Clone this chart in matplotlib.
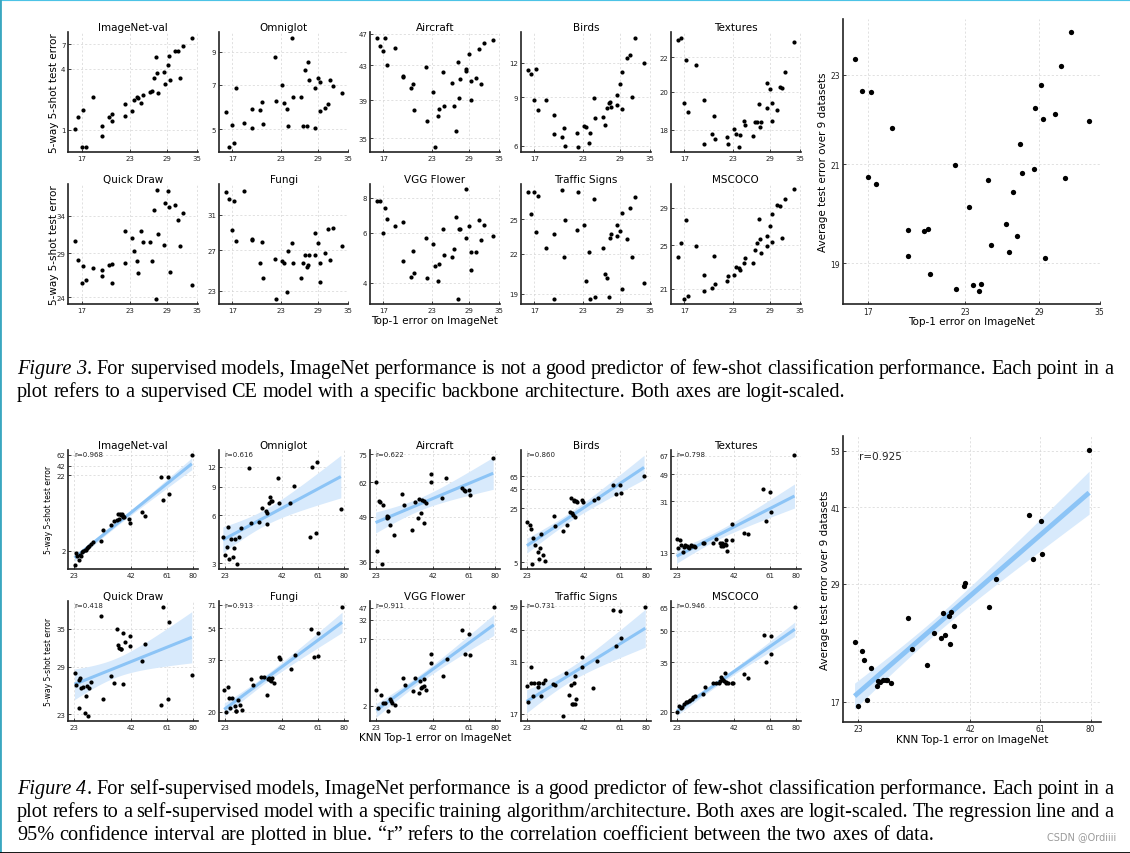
import numpy as np
import matplotlib.pyplot as plt
from matplotlib.ticker import FixedLocator, FixedFormatter, NullLocator
from matplotlib.lines import Line2D

# ---------------- Figure 3: supervised models (same ImageNet error in every panel)
titles = ["ImageNet-val", "Omniglot", "Aircraft", "Birds", "Textures",
          "Quick Draw", "Fungi", "VGG Flower", "Traffic Signs", "MSCOCO"]

sup_x = [16.31, 16.65, 17.0, 17.16, 17.43, 18.30, 19.26, 19.26, 20.20, 20.50, 20.60, 22.25,
         22.37, 23.27, 23.56, 24.00, 24.15, 24.71, 24.92, 26.14, 26.41, 26.74, 27.08, 27.30,
         27.50, 28.55, 28.58, 29.12, 29.36, 29.48, 30.45, 31.05, 31.44, 32.03, 33.87]
sup_imagenet = [1.02, 1.35, 0.68, 1.58, 0.68, 2.09, 0.87, 1.09, 1.32, 1.21, 1.43, 1.38, 1.78,
                1.54, 1.95, 2.13, 2.05, 1.85, 2.21, 2.35, 2.42, 3.23, 5.26, 3.65, 2.33, 3.76,
                2.84, 4.35, 5.34, 3.13, 5.99, 5.99, 3.23, 6.82, 8.12]
sup_omniglot = [5.70, 4.37, 5.14, 4.48, 6.83, 5.25, 5.03, 5.84, 5.76, 6.15, 5.19, 8.64, 6.17,
                7.00, 6.09, 5.82, 5.10, 9.98, 6.39, 6.39, 5.13, 7.83, 5.10, 8.34, 7.24, 6.81,
                5.05, 7.35, 7.16, 5.73, 5.86, 6.03, 7.25, 6.91, 6.56]
sup_aircraft = [46.43, 45.40, 44.72, 46.43, 43.08, 45.15, 41.76, 41.6, 40.30, 40.76, 37.88,
                42.80, 36.80, 39.93, 34.20, 37.32, 38.06, 42.20, 38.31, 40.87, 38.38, 35.78,
                43.36, 39.18, 41.33, 42.32, 42.60, 44.35, 41.18, 39.0, 41.53, 45.06, 40.80,
                45.79, 46.18]
sup_birds = [11.32, 10.92, 8.78, 11.45, 8.12, 8.80, 7.78, 6.62, 6.43, 6.96, 5.98, 6.66, 5.95,
             7.09, 7.01, 6.15, 6.68, 8.95, 7.59, 7.65, 7.12, 8.21, 8.58, 8.68, 8.30, 9.20, 8.44,
             10.09, 11.16, 8.16, 12.55, 12.87, 9.05, 14.84, 11.97]
sup_textures = [23.10, 23.19, 19.36, 21.84, 18.92, 21.55, 19.53, 17.30, 17.77, 18.68, 17.54,
                17.64, 17.30, 18.03, 17.80, 17.15, 17.75, 18.44, 18.23, 17.67, 18.39, 18.40,
                19.31, 18.15, 18.40, 20.49, 19.10, 20.13, 19.38, 18.44, 18.99, 20.28, 20.20,
                21.12, 22.97]
sup_quickdraw = [30.57, 28.15, 25.48, 27.47, 25.84, 27.24, 26.97, 26.29, 27.59, 27.67, 25.48,
                 31.90, 27.75, 30.92, 29.29, 27.99, 26.66, 31.81, 30.44, 30.35, 28.03, 34.84,
                 23.87, 38.0, 31.49, 29.96, 35.95, 37.84, 35.29, 26.70, 35.59, 33.43, 29.88,
                 34.44, 25.33]
sup_fungi = [33.94, 32.98, 29.24, 32.68, 27.93, 34.07, 28.23, 28.1, 25.62, 27.90, 24.16, 26.10,
             22.28, 25.89, 25.62, 22.90, 26.86, 27.75, 25.66, 24.16, 25.66, 26.51, 25.29, 25.49,
             26.44, 28.90, 26.51, 27.79, 23.85, 25.66, 26.69, 29.32, 26.0, 29.39, 27.46]
sup_vgg = [7.77, 7.81, 6.0, 7.36, 6.74, 6.37, 6.55, 4.76, 4.20, 5.20, 4.33, 5.74, 4.16, 5.47,
           4.60, 4.04, 4.67, 6.20, 5.03, 4.94, 5.28, 6.85, 3.51, 6.18, 6.22, 5.76, 8.57, 6.37,
           5.15, 4.44, 5.15, 6.69, 5.68, 6.40, 5.84]
sup_traffic = [27.70, 25.53, 27.70, 23.89, 27.29, 22.52, 23.72, 18.65, 27.90, 21.76, 24.94,
               24.07, 27.63, 24.49, 19.89, 22.16, 18.65, 26.95, 18.75, 22.49, 20.41, 20.16,
               18.75, 23.31, 23.72, 23.54, 24.49, 23.98, 25.56, 19.36, 23.23, 26.08, 21.76,
               27.19, 19.79]
sup_mscoco = [23.86, 25.23, 20.17, 27.67, 20.42, 24.87, 22.17, 20.83, 21.05, 23.96, 21.39,
              21.62, 22.05, 22.17, 22.89, 22.80, 22.62, 23.29, 23.70, 23.26, 24.47, 25.17,
              27.74, 25.64, 24.21, 24.93, 25.95, 26.94, 25.27, 28.34, 29.30, 29.18, 25.74,
              30.01, 31.24]
sup_avg = [23.37, 22.62, 20.73, 22.59, 20.59, 21.78, 19.64, 19.14, 19.63, 19.66, 18.79, 20.98,
           18.51, 20.11, 18.58, 18.47, 18.60, 20.67, 19.35, 19.76, 19.22, 20.42, 19.52, 21.43,
           20.82, 20.90, 22.24, 22.75, 21.99, 19.10, 22.09, 23.21, 20.71, 24.01, 21.94]

sup_y = [sup_imagenet, sup_omniglot, sup_aircraft, sup_birds, sup_textures,
         sup_quickdraw, sup_fungi, sup_vgg, sup_traffic, sup_mscoco]
sup_xticks = [17, 23, 29, 35]
sup_yticks = [[1, 4, 7], [5, 7, 9], [35, 39, 43, 47], [6, 9, 12], [18, 20, 22],
              [24, 29, 34], [23, 27, 31, 35], [4, 6, 8], [19, 22, 25], [21, 25, 29]]
sup_avg_yticks = [19, 21, 23]

# ---------------- Figure 4: self-supervised models
ssl_x = [
    [23.16, 23.49, 23.74, 24.24, 24.49, 24.75, 25.02, 25.37, 25.73, 26.09, 26.46, 26.74, 27.02,
     27.59, 28.08, 30.43, 31.08, 33.92, 35.0, 35.99, 36.49, 37.00, 37.26, 37.65, 38.05, 38.32,
     38.59, 39.0, 41.12, 41.41, 46.80, 48.65, 57.55, 58.56, 61.71, 62.14, 79.14],
    [22.60, 23.0, 23.49, 23.74, 24.07, 24.58, 25.19, 25.45, 25.63, 26.18, 26.74, 27.30, 29.80,
     30.43, 33.12, 34.13, 35.45, 35.70, 35.96, 36.49, 36.89, 37.43, 37.97, 40.27, 40.55, 45.69,
     47.48, 56.37, 57.76, 60.24, 60.62, 77.79],
    [23.0, 23.33, 23.90, 24.16, 24.58, 24.93, 25.82, 26.0, 26.18, 26.74, 27.88, 30.22, 31.0,
     33.57, 34.63, 35.96, 36.37, 36.92, 37.34, 38.05, 38.19, 38.88, 41.0, 41.0, 46.32, 48.15,
     56.96, 58.17, 58.6, 61.09, 61.7, 78.9],
    [23.08, 23.90, 24.16, 24.24, 24.67, 25.19, 25.91, 26.09, 26.37, 26.83, 27.40, 27.98, 30.54,
     31.08, 33.80, 35.0, 36.25, 36.65, 37.0, 37.47, 37.65, 37.97, 38.19, 38.45, 38.88, 41.12,
     41.41, 46.48, 48.5, 57.14, 58.7, 61.28, 61.9, 78.8],
    [23.0, 23.24, 23.90, 24.16, 24.58, 24.75, 25.19, 25.64, 25.99, 26.27, 26.74, 27.11, 27.50,
     27.98, 30.22, 30.76, 33.68, 34.88, 36.37, 36.78, 37.20, 37.61, 38.05, 38.45, 38.59, 38.88,
     41.0, 41.27, 46.64, 48.81, 57.14, 58.8, 61.5, 61.71, 79.14],
    [23.16, 23.57, 24.16, 24.24, 24.58, 24.84, 25.28, 25.91, 26.09, 26.37, 26.64, 27.02, 27.49,
     30.54, 31.08, 33.92, 35.0, 36.25, 36.65, 37.0, 37.55, 37.82, 38.32, 38.59, 39.13, 41.41,
     41.56, 46.80, 48.65, 58.56, 57.55, 61.71, 62.14, 79.14],
    [22.92, 23.33, 23.82, 24.07, 24.41, 24.93, 25.55, 25.82, 26.0, 26.55, 27.11, 27.69, 30.22,
     30.87, 33.57, 34.63, 35.96, 36.25, 36.49, 37.0, 37.47, 37.97, 38.45, 40.86, 41.12, 46.32,
     48.1, 57.14, 58.56, 61.09, 61.5, 78.8],
    [23.16, 23.65, 24.24, 24.75, 25.28, 26.27, 26.64, 26.92, 27.40, 28.08, 30.65, 31.19, 34.04,
     34.88, 36.25, 36.65, 37.13, 37.55, 38.19, 38.19, 39.13, 41.27, 41.27, 46.64, 48.5, 57.14,
     58.85, 61.5, 62.14, 79.4],
    [23.0, 23.41, 23.98, 24.58, 24.16, 24.93, 25.82, 26.0, 26.27, 26.74, 27.30, 27.88, 30.43,
     31.0, 33.57, 34.88, 35.83, 36.49, 36.89, 37.34, 37.65, 38.05, 38.32, 38.72, 41.0, 41.27,
     46.32, 48.3, 57.14, 58.56, 61.09, 61.71, 79.8],
    [23.08, 23.49, 23.98, 24.41, 24.84, 25.28, 25.73, 26.09, 26.55, 26.92, 27.30, 27.88, 30.33,
     31.0, 33.68, 34.63, 35.83, 36.37, 36.78, 37.0, 37.47, 37.82, 38.19, 38.45, 38.72, 39.54,
     41.0, 41.41, 46.80, 48.81, 57.55, 58.7, 61.71, 61.9, 79.4],
]
ssl_y = [
    [1.30, 1.86, 1.73, 1.51, 1.74, 1.69, 1.96, 2.0, 2.06, 2.08, 2.18, 2.25, 2.37, 2.52, 2.66,
     2.71, 3.88, 4.59, 5.16, 5.38, 6.50, 5.44, 6.37, 6.23, 6.37, 5.98, 5.79, 5.79, 5.49, 4.79,
     6.86, 6.04, 20.70, 9.91, 20.70, 12.23, 41.4],
    [4.41, 3.39, 3.82, 5.08, 3.18, 4.25, 3.31, 3.76, 4.25, 2.97, 4.35, 5.01, 11.77, 5.33, 5.40,
     6.60, 6.35, 6.14, 5.30, 7.15, 7.75, 7.32, 7.39, 10.21, 7.15, 7.15, 9.16, 4.41, 11.94, 4.64,
     12.77, 6.57],
    [62.17, 38.80, 54.51, 54.02, 35.43, 52.93, 48.45, 49.22, 48.78, 46.20, 43.15, 57.30, 52.93,
     44.65, 54.14, 48.45, 55.13, 50.12, 54.88, 54.51, 47.04, 53.65, 65.65, 62.03, 55.63, 63.89,
     59.70, 58.88, 58.6, 59.01, 56.78, 73.2],
    [16.68, 15.41, 13.56, 4.76, 10.28, 8.52, 6.79, 5.58, 7.72, 11.81, 6.15, 5.25, 19.73, 14.82,
     12.77, 15.41, 22.43, 34.63, 21.56, 20.31, 32.0, 31.06, 19.34, 30.76, 29.86, 31.69, 30.16,
     32.0, 34.29, 50.37, 38.6, 49.9, 39.76, 65.15],
    [16.36, 14.15, 16.09, 14.80, 13.08, 14.46, 14.96, 14.63, 14.46, 14.08, 14.80, 14.63, 14.55,
     14.46, 15.30, 15.30, 15.39, 16.36, 15.22, 14.55, 15.22, 14.71, 15.13, 16.18, 14.80, 13.30,
     16.09, 21.30, 18.21, 17.80, 38.14, 22.15, 36.47, 25.92, 67.57],
    [28.11, 26.51, 23.68, 27.21, 27.52, 26.12, 26.25, 23.11, 25.15, 26.42, 22.85, 26.20, 26.99,
     37.17, 24.79, 27.70, 26.77, 34.94, 32.30, 31.78, 31.67, 31.62, 34.26, 26.64, 32.73, 33.81,
     32.09, 29.91, 32.46, 38.85, 24.11, 24.79, 36.16, 27.88],
    [25.93, 19.93, 26.99, 23.51, 20.97, 23.51, 21.47, 20.33, 20.17, 23.06, 21.81, 20.48, 29.67,
     27.42, 30.38, 30.38, 24.45, 29.44, 29.78, 29.21, 28.96, 29.90, 28.08, 38.49, 37.29, 33.26,
     39.41, 53.39, 38.49, 50.92, 38.64, 69.54],
    [3.34, 1.87, 2.85, 2.18, 2.20, 1.70, 2.50, 2.37, 2.23, 2.09, 4.87, 3.93, 3.27, 4.92, 3.00,
     4.51, 3.56, 3.72, 4.72, 3.84, 3.38, 8.03, 10.62, 5.30, 8.94, 23.18, 10.62, 19.96, 10.40,
     47.99],
    [23.40, 19.60, 29.17, 21.01, 24.42, 24.42, 23.13, 24.42, 24.42, 20.85, 24.23, 25.28, 24.14,
     23.86, 16.55, 27.20, 21.17, 23.68, 19.01, 19.01, 24.23, 19.01, 26.27, 20.22, 29.39, 33.0,
     23.05, 31.47, 56.77, 37.46, 55.69, 40.76, 58.77],
    [20.0, 21.33, 20.77, 21.0, 21.81, 22.23, 22.40, 22.48, 22.74, 23.08, 23.52, 23.97, 24.43,
     26.44, 27.77, 27.77, 27.77, 28.41, 29.50, 29.06, 28.51, 28.19, 30.87, 28.09, 27.56, 27.67,
     27.67, 27.77, 30.76, 29.28, 47.64, 35.22, 47.27, 38.27, 65.40],
]
ssl_avg_x = [22.59, 23.0, 23.54, 23.75, 24.18, 24.61, 25.42, 25.64, 25.83, 26.34, 26.72, 26.91,
             27.44, 30.00, 30.65, 33.27, 34.48, 35.79, 36.31, 36.63, 37.36, 37.69, 37.82, 38.50,
             40.68, 40.76, 46.38, 48.23, 57.32, 58.67, 61.44, 61.77, 79.28]
ssl_avg_y = [22.25, 16.67, 21.42, 20.57, 17.15, 19.83, 18.22, 18.67, 18.61, 18.78, 18.78, 18.78,
             18.47, 24.88, 21.62, 20.05, 23.25, 22.66, 25.42, 22.97, 25.11, 22.08, 25.49, 24.0,
             28.77, 29.08, 26.12, 29.66, 39.64, 32.41, 38.58, 33.25, 53.24]
ssl_r = [0.968, 0.616, 0.622, 0.860, 0.798, 0.418, 0.913, 0.911, 0.731, 0.946]
ssl_avg_r = 0.925
ssl_xticks = [23, 42, 61, 80]
ssl_yticks = [[2, 22, 29.4, 41.8], [3, 6, 9, 12], [36, 49, 62, 75], [5, 25, 45, 65],
              [13, 31, 49, 67], [23, 29, 35], [20, 37, 54, 71], [2, 17, 32, 47],
              [17, 31, 45, 59], [20, 35, 50, 65]]
ssl_ytick_labels = [["2", "22", "42", "62"]] + [None] * 9
ssl_avg_yticks = [17, 29, 41, 53]

# ---------------- layout (pixels)
W, H = 1130, 854
fig = plt.figure(figsize=(W / 100, H / 100), dpi=100)
col_l = [68.3, 219, 370, 521, 671]
col_w = 129.5

sup_ylims = [(0.596, 9.24), (4.19, 10.42), (33.66, 47.2), (5.68, 15.5), (16.9, 23.58),
             (23.33, 38.93), (21.85, 34.98), (3.36, 8.95), (18.29, 28.49), (19.75, 31.9)]
ssl_ylims = [(1.13, 49.1), (2.77, 15.3), (34.25, 77.5), (4.11, 144), (9.89, 74.3),
             (22.22, 40.0), (17.91, 74.1), (1.22, 57.6), (15.62, 62.5), (17.93, 69.7)]

DOT = 'black'
BAND = '#d8eafc'
LINE = '#8cc4f6'


def add_ax(l, t, r, b):
    return fig.add_axes([l / W, 1 - b / H, (r - l) / W, (b - t) / H])


def style(ax, xt, xlim, yt, ylim, ylab=None, fs=5):
    ax.set_xscale('log')
    ax.set_yscale('log')
    ax.set_xlim(*xlim)
    ax.set_ylim(*ylim)
    ax.xaxis.set_major_locator(FixedLocator(xt))
    ax.xaxis.set_major_formatter(FixedFormatter([str(v) for v in xt]))
    ax.yaxis.set_major_locator(FixedLocator(yt))
    ax.yaxis.set_major_formatter(FixedFormatter(ylab or [str(v) for v in yt]))
    ax.xaxis.set_minor_locator(NullLocator())
    ax.yaxis.set_minor_locator(NullLocator())
    for s in ['top', 'right']:
        ax.spines[s].set_visible(False)
    for s in ['left', 'bottom']:
        ax.spines[s].set_linewidth(1.2)
        ax.spines[s].set_color('#222222')
    ax.tick_params(direction='in', length=2.5, width=0.6, labelsize=fs, pad=2,
                   colors='#222222')
    ax.grid(True, ls=(0, (3, 3)), lw=0.5, color='#d4d4d4')
    ax.set_axisbelow(True)


def regband(ax, x, y, lw):
    lx, ly = np.log(x), np.log(y)
    n = len(lx)
    b, a = np.polyfit(lx, ly, 1)
    gx = np.linspace(lx.min(), lx.max(), 100)
    fit = a + b * gx
    res = ly - (a + b * lx)
    s = np.sqrt(res @ res / (n - 2))
    se = s * np.sqrt(1 / n + (gx - lx.mean()) ** 2 / ((lx - lx.mean()) ** 2).sum())
    ax.fill_between(np.exp(gx), np.exp(fit - 2.04 * se), np.exp(fit + 2.04 * se),
                    color=BAND, lw=0, zorder=1)
    ax.plot(np.exp(gx), np.exp(fit), color=LINE, lw=lw, zorder=2, solid_capstyle='butt')


# ---- Figure 3 panels
rows3 = [(33.3, 153.3), (185, 305)]
for i in range(10):
    r, c = divmod(i, 5)
    t, b = rows3[r]
    ax = add_ax(col_l[c], t, col_l[c] + col_w, b)
    ax.plot(sup_x, sup_y[i], 'o', color=DOT, ms=3, mew=0, zorder=3)
    style(ax, sup_xticks, (15.63, 35.2), sup_yticks[i], sup_ylims[i])
    ax.set_title(titles[i], fontsize=7.5, pad=1.5)
    if c == 0:
        ax.set_ylabel('5-way 5-shot test error', fontsize=7.5)
        ax.yaxis.set_label_coords(-0.075, 0.5)
    if i == 7:
        ax.set_xlabel('Top-1 error on ImageNet', fontsize=7.5)
        ax.xaxis.set_label_coords(0.5, -0.09)

ax = add_ax(843, 20, 1100, 305)
ax.plot(sup_x, sup_avg, 'o', color=DOT, ms=3.8, mew=0, zorder=3)
style(ax, sup_xticks, (15.7, 35.05), sup_avg_yticks, (18.23, 24.33), fs=5.5)
ax.set_ylabel('Average test error over 9 datasets', fontsize=7.5)
ax.yaxis.set_label_coords(-0.06, 0.5)
ax.set_xlabel('Top-1 error on ImageNet', fontsize=7.5)
ax.xaxis.set_label_coords(0.5, -0.042)

# ---- Figure 4 panels
rows4 = [(450.7, 570), (602.3, 722.3)]
for i in range(10):
    r, c = divmod(i, 5)
    t, b = rows4[r]
    ax = add_ax(col_l[c], t, col_l[c] + col_w, b)
    regband(ax, ssl_x[i], ssl_y[i], 2.2)
    ax.plot(ssl_x[i], ssl_y[i], 'o', color=DOT, ms=3, mew=0, zorder=3)
    style(ax, ssl_xticks, (21.7, 84.3), ssl_yticks[i], ssl_ylims[i], ssl_ytick_labels[i])
    ax.set_title(titles[i], fontsize=7.5, pad=1.5)
    ax.text(0.045, 0.965, f'r={ssl_r[i]:.3f}', transform=ax.transAxes, fontsize=5,
            va='center', ha='left', color='#222222')
    if c == 0:
        ax.set_ylabel('5-way 5-shot test error', fontsize=5.5)
        ax.yaxis.set_label_coords(-0.115, 0.5)
    if i == 7:
        ax.set_xlabel('KNN Top-1 error on ImageNet', fontsize=7.5)
        ax.xaxis.set_label_coords(0.5, -0.09)

ax = add_ax(842.7, 437.3, 1101, 722.7)
regband(ax, ssl_avg_x, ssl_avg_y, 3.5)
ax.plot(ssl_avg_x, ssl_avg_y, 'o', color=DOT, ms=3.8, mew=0, zorder=3)
style(ax, ssl_xticks, (21.2, 84.5), ssl_avg_yticks, (15.53, 56.6), fs=5.5)
ax.text(0.063, 0.932, f'r={ssl_avg_r:.3f}', transform=ax.transAxes, fontsize=7.5,
        va='center', ha='left', color='#222222')
ax.set_ylabel('Average test error over 9 datasets', fontsize=7.5)
ax.yaxis.set_label_coords(-0.05, 0.5)
ax.set_xlabel('KNN Top-1 error on ImageNet', fontsize=7.5)
ax.xaxis.set_label_coords(0.5, -0.042)

# ---- captions (justified, Times-like serif)
serif = 'Liberation Serif'
CAP = 14.6
renderer = fig.canvas.get_renderer()


def measure(s, italic=False):
    t = fig.text(0, 0, s, fontsize=CAP, family=serif, style='italic' if italic else 'normal')
    w = t.get_window_extent(renderer).width
    t.remove()
    return w


space_w = measure('a a') - measure('aa')


def caption_line(y, words, justify=True, x0=17, x1=1113):
    widths = [[measure(s, it) for s, it in word] for word in words]
    total = sum(sum(w) for w in widths)
    gap = (x1 - x0 - total) / (len(words) - 1) if justify else space_w
    x = x0
    for word, ws in zip(words, widths):
        for (s, it), w in zip(word, ws):
            fig.text(x / W, 1 - y / H, s, fontsize=CAP, family=serif,
                     style='italic' if it else 'normal', va='baseline', ha='left')
            x += w
        x += gap


def plain(s):
    # split on ordinary spaces only; a comma word is kept with its neighbour (no-break space)
    return [[(w, False)] for w in s.split(' ')]


fig_label = lambda n: [[('Figure', True)], [(n, True), ('.', False)]]

caption_line(374.3, fig_label('3') + plain(
    'For supervised models,\u00a0ImageNet performance is not a good predictor of few-shot '
    'classification performance. Each point in a'))
caption_line(397.3, plain(
    'plot refers to a supervised CE model with a specific backbone architecture. '
    'Both axes are logit-scaled.'), justify=False)
caption_line(794.3, fig_label('4') + plain(
    'For self-supervised models,\u00a0ImageNet performance is a good predictor of few-shot '
    'classification performance. Each point in a'))
caption_line(817.3, plain(
    'plot refers to a self-supervised model with a specific training algorithm/architecture. '
    'Both axes are logit-scaled. The regression line and a'))
caption_line(840.3, plain(
    '95% confidence interval are plotted in blue. \u201cr\u201d refers to the correlation '
    'coefficient between the two axes of data.'), justify=False)

fig.text(1116 / W, 1 - 840 / H, 'CSDN @Ordiiii', fontsize=7, color='#9a9a9a',
         ha='right', va='baseline')

# screenshot frame edges
fig.add_artist(Line2D([0, 1], [1, 1], transform=fig.transFigure, color='#4cc3e6', lw=3))
fig.add_artist(Line2D([0, 0], [0, 1], transform=fig.transFigure, color='#3aa7c0', lw=2))
fig.add_artist(Line2D([0, 1], [0, 0], transform=fig.transFigure, color='black', lw=2))

fig.savefig('out.png', dpi=100)
